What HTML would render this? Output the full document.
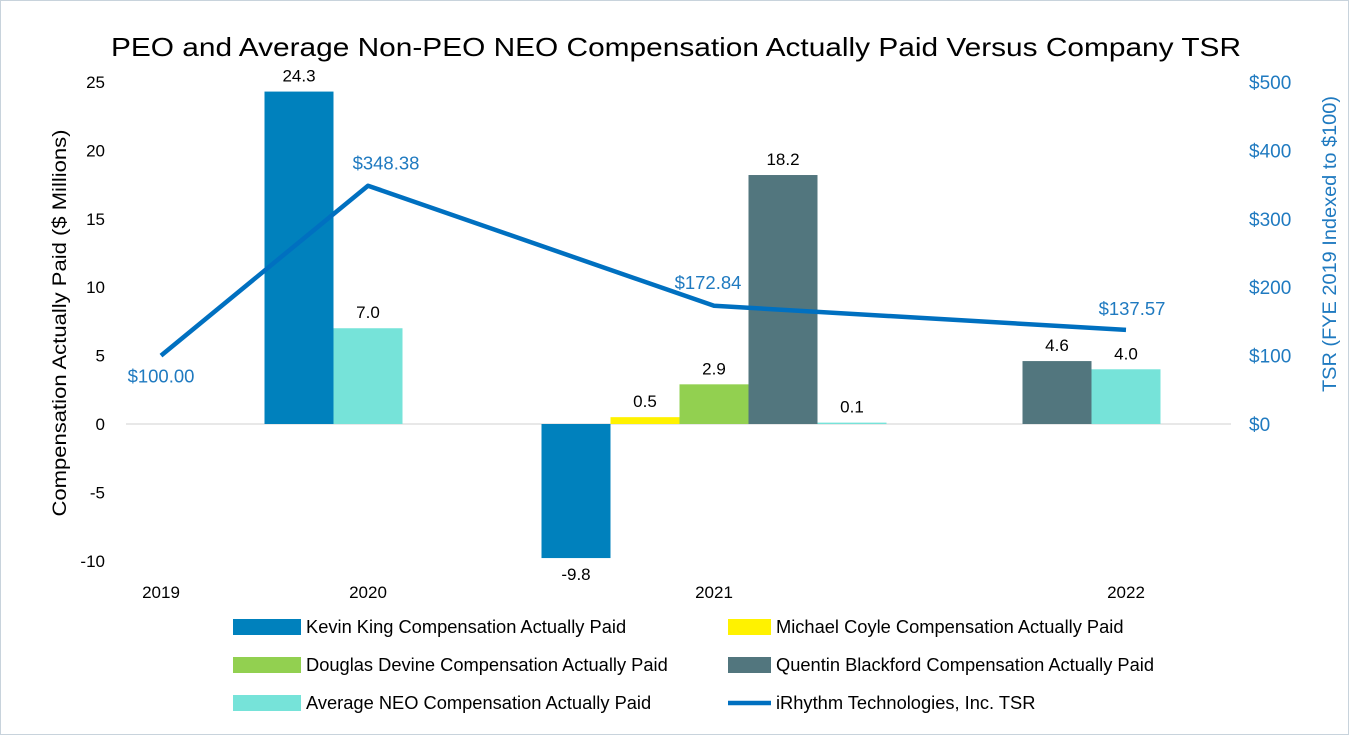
<!DOCTYPE html>
<html><head><meta charset="utf-8"><style>
body{margin:0;background:#fff}
#c{position:absolute;left:0;top:0;width:1349px;height:735px;box-sizing:border-box;border:1px solid #c8d3dc;background:#fff;font-family:"Liberation Sans",sans-serif}
</style></head><body>
<div id="c">
<svg id="s" width="1349" height="735" xmlns="http://www.w3.org/2000/svg" font-family="Liberation Sans, sans-serif"></svg>
</div>
<script>
const categories=["2019","2020","2021","2022"];
const seriesNames=["Kevin King Compensation Actually Paid","Michael Coyle Compensation Actually Paid","Douglas Devine Compensation Actually Paid","Quentin Blackford Compensation Actually Paid","Average NEO Compensation Actually Paid"];
const kevin=[null,24.3,-9.8,null];
const coyle=[null,null,0.5,null];
const devine=[null,null,2.9,null];
const quentin=[null,null,18.2,4.6];
const avgNeo=[null,7.0,0.1,4.0];
const tsr=[100.00,348.38,172.84,137.57];
const leftTicks=[-10,-5,0,5,10,15,20,25];
const rightTicks=[0,100,200,300,400,500];
const colors=["#0081bd","#fff200","#92d050","#52767e","#76e3d9"];
const NS="http://www.w3.org/2000/svg",svg=document.getElementById('s');
const catX=[160,367,713,1125];
const yL=v=>423-v*13.68, yR=v=>423-v*0.684, BW=69;
function mk(t,a,txt){const e=document.createElementNS(NS,t);for(const k in a)e.setAttribute(k,a[k]);if(txt!=null)e.textContent=txt;svg.appendChild(e);return e;}
let e=mk('text',{x:675,y:55,'font-size':26,'text-anchor':'middle',fill:'#000',textLength:1130,lengthAdjust:'spacingAndGlyphs'},'PEO and Average Non-PEO NEO Compensation Actually Paid Versus Company TSR');

leftTicks.forEach(t=>{const el=mk('text',{x:104,y:yL(t)+6,'font-size':17,'text-anchor':'end'},String(t));
});
rightTicks.forEach(t=>{const el=mk('text',{x:1248,y:yR(t)+7,'font-size':19,fill:'#1f7ac0'},'$'+t);
});
e=mk('text',{transform:'translate(65,322) rotate(-90)','font-size':19,'text-anchor':'middle',textLength:387,lengthAdjust:'spacingAndGlyphs'},'Compensation Actually Paid ($ Millions)');

e=mk('text',{transform:'translate(1335,243) rotate(-90)','font-size':19,'text-anchor':'middle',fill:'#1f7ac0',textLength:296,lengthAdjust:'spacingAndGlyphs'},'TSR (FYE 2019 Indexed to $100)');

e=mk('line',{x1:125,x2:1230,y1:yL(0),y2:yL(0),stroke:'#d0d0d0','stroke-width':1});

categories.forEach((c,i)=>{const el=mk('text',{x:catX[i],y:597,'font-size':17,'text-anchor':'middle'},c);
});
const series=[kevin,coyle,devine,quentin,avgNeo];
categories.forEach((c,i)=>{
 const present=series.map((s,k)=>k).filter(k=>series[k][i]!=null);
 const n=present.length;if(!n)return;
 const start=catX[i]-(Math.floor(n/2)+0.5)*BW;
 present.forEach((k,j)=>{const v=series[k][i];const x=start+j*BW;
  const y0=yL(0),y1=yL(v);
  const r=mk('rect',{x:x,y:Math.min(y0,y1),width:BW,height:Math.abs(y1-y0),fill:colors[k]});
  
  const ly=v>=0?y1-10:y1+22;
  const t=mk('text',{x:x+BW/2,y:ly,'font-size':17,'text-anchor':'middle'},v.toFixed(1));
  
 });
});
const pts=tsr.map((v,i)=>catX[i]+','+yR(v)).join(' ');
e=mk('polyline',{points:pts,fill:'none',stroke:'#0070c0','stroke-width':4.5,'stroke-linejoin':'round'});

const lblOff=[[0,27],[18,-16],[-6,-17],[6,-15]];
tsr.forEach((v,i)=>{const t=mk('text',{x:catX[i]+lblOff[i][0],y:yR(v)+lblOff[i][1],'font-size':18.5,'text-anchor':'middle',fill:'#1f7ac0'},'$'+v.toFixed(2));
});
const leg=[[0,232,626],[1,727,626],[2,232,664],[3,727,664],[4,232,702]];
leg.forEach(([k,x,y])=>{const r=mk('rect',{x:x,y:y-8,width:k%2?43:68,height:16,fill:colors[k]});

const t=mk('text',{x:x+(k%2?48:73),y:y+6,'font-size':18.3},seriesNames[k]);
});
e=mk('line',{x1:727,x2:770,y1:702,y2:702,stroke:'#0070c0','stroke-width':4.5});

e=mk('text',{x:775,y:708,'font-size':18.3},'iRhythm Technologies, Inc. TSR');

</script>
</body></html>
